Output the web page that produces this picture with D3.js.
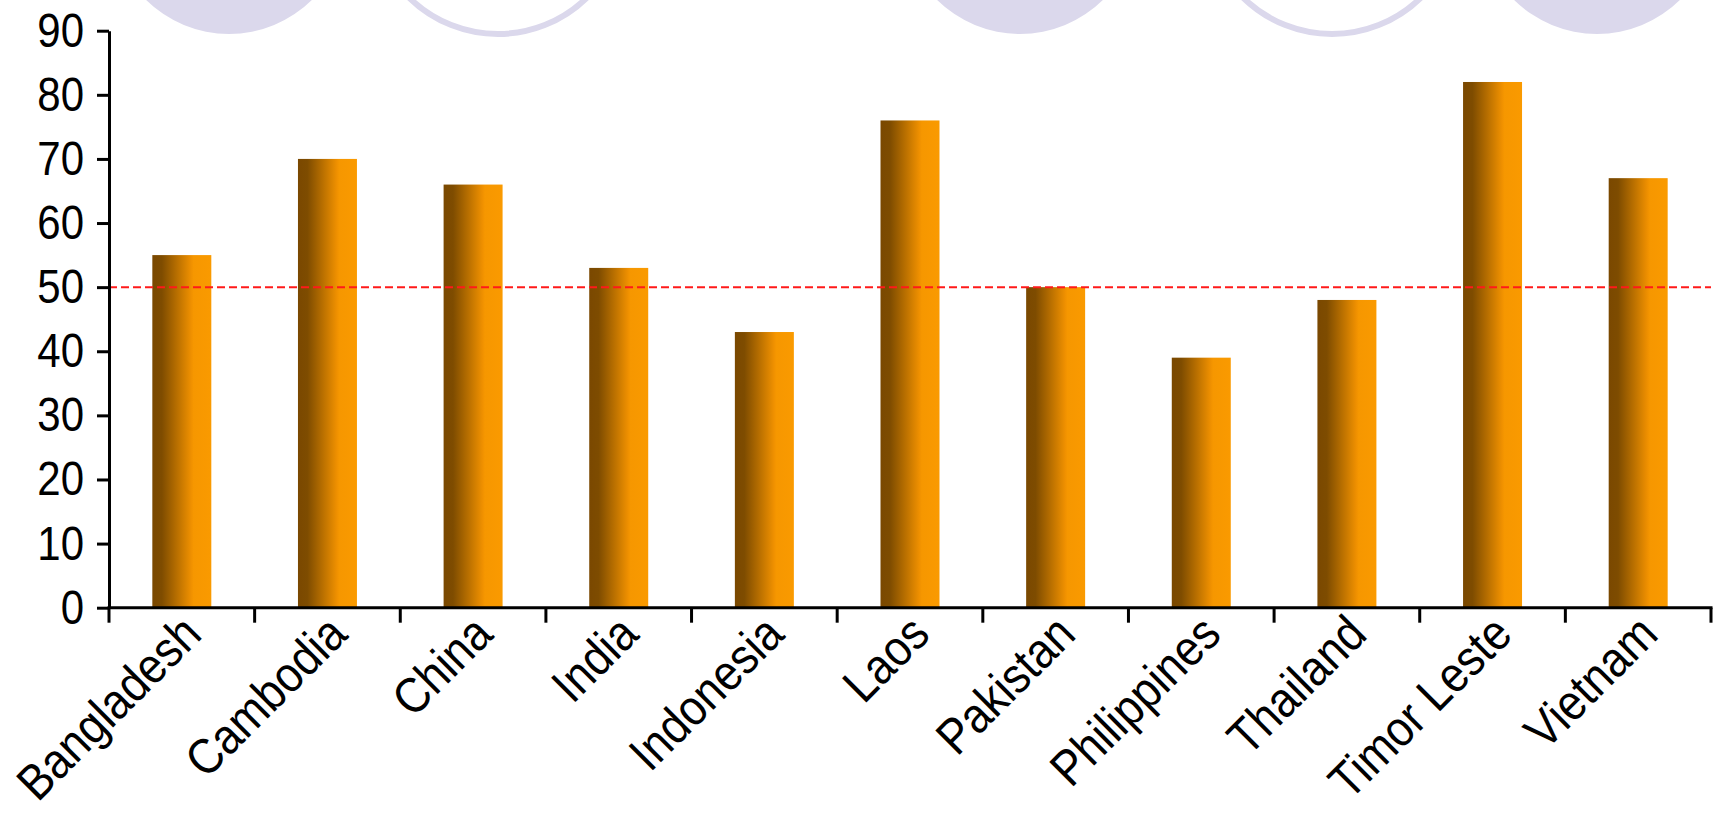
<!DOCTYPE html>
<html>
<head>
<meta charset="utf-8">
<script src="https://cdn.jsdelivr.net/npm/d3@7"></script>
<style>
  html, body { margin: 0; padding: 0; background: #ffffff; }
  svg { display: block; }
  text { font-family: "Liberation Sans", Arial, sans-serif; fill: #000; }
</style>
</head>
<body>
<svg id="chart" width="1715" height="813"></svg>
<script>
// Share of population (%) by country
const countries = ["Bangladesh", "Cambodia", "China", "India", "Indonesia", "Laos",
                   "Pakistan", "Philippines", "Thailand", "Timor Leste", "Vietnam"];
const values = [55, 70, 66, 53, 43, 76, 50, 39, 48, 82, 67];
const yTicks = [0, 10, 20, 30, 40, 50, 60, 70, 80, 90];
const referenceValue = 50;

// Decorative header discs (filled / ring) along the top edge
const headerDiscs = [
  { cx: 229,  filled: true },
  { cx: 498,  filled: false },
  { cx: 1020, filled: true },
  { cx: 1332, filled: false },
  { cx: 1597, filled: true }
];

const W = 1715, H = 813;
const plot = { left: 109, right: 1711, top: 30.7, bottom: 607.7 };

const svg = d3.select("#chart");

// background discs
const lav = "#dbd8ec";
svg.append("g").selectAll("circle")
  .data(headerDiscs)
  .join("circle")
  .attr("cx", d => d.cx)
  .attr("cy", d => d.filled ? -84 : -93)
  .attr("r", d => d.filled ? 118 : 127)
  .attr("fill", d => d.filled ? lav : "none")
  .attr("stroke", d => d.filled ? "none" : lav)
  .attr("stroke-width", 6);

// bar gradient, dark brown on the left to orange on the right
const defs = svg.append("defs");
const grad = defs.append("linearGradient")
  .attr("id", "barFill")
  .attr("x1", "0%").attr("x2", "100%").attr("y1", "0%").attr("y2", "0%");
[
  ["0%", "#7a4800"],
  ["16%", "#7e4c00"],
  ["66%", "#ef9000"],
  ["70%", "#f69700"],
  ["100%", "#fa9a00"]
].forEach(([o, c]) => grad.append("stop").attr("offset", o).attr("stop-color", c));

const x = d3.scaleBand()
  .domain(countries)
  .range([plot.left, plot.right])
  .paddingInner(0.595)
  .paddingOuter(0.2975);

const y = d3.scaleLinear()
  .domain([0, 90])
  .range([plot.bottom, plot.top]);

// bars
svg.append("g").selectAll("rect")
  .data(countries)
  .join("rect")
  .attr("x", d => x(d))
  .attr("width", x.bandwidth())
  .attr("y", (d, i) => y(values[i]))
  .attr("height", (d, i) => y(0) - y(values[i]))
  .attr("fill", "url(#barFill)");

// reference line
svg.append("line")
  .attr("x1", plot.left).attr("x2", plot.right)
  .attr("y1", y(referenceValue)).attr("y2", y(referenceValue))
  .attr("stroke", "#ff1a1a")
  .attr("stroke-width", 2)
  .attr("stroke-dasharray", "8,4");

// y axis
const yAxis = d3.axisLeft(y)
  .tickValues(yTicks)
  .tickSize(12)
  .tickPadding(13)
  .tickSizeOuter(0);
const gy = svg.append("g")
  .attr("transform", `translate(${plot.left},0)`)
  .call(yAxis);
gy.select(".domain").attr("stroke", "#000").attr("stroke-width", 3);
gy.selectAll(".tick line").attr("stroke", "#000").attr("stroke-width", 3);
gy.selectAll(".tick text")
  .style("font-size", "42px")
  .attr("transform", "scale(1,1.15)")
  .attr("fill", "#000");

// x axis: ticks at category boundaries
const edges = d3.range(countries.length + 1).map(i => plot.left + i * x.step());
const gx = svg.append("g");
gx.append("line")
  .attr("x1", plot.left - 1.5).attr("x2", plot.right + 1.5)
  .attr("y1", plot.bottom).attr("y2", plot.bottom)
  .attr("stroke", "#000").attr("stroke-width", 3);
gx.selectAll("line.edge")
  .data(edges)
  .join("line")
  .attr("class", "edge")
  .attr("x1", d => d).attr("x2", d => d)
  .attr("y1", plot.bottom).attr("y2", plot.bottom + 15)
  .attr("stroke", "#000").attr("stroke-width", 3);

// rotated category labels
gx.selectAll("text")
  .data(countries)
  .join("text")
  .attr("text-anchor", "end")
  .attr("transform", d => `translate(${x(d) + x.bandwidth() / 2 + 22},${plot.bottom + 29}) rotate(-45) scale(1,1.12)`)
  .style("font-size", "44.5px")
  .text(d => d);
</script>
</body>
</html>
